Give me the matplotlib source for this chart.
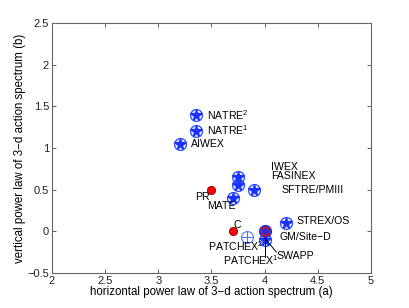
import matplotlib
matplotlib.use("Agg")
import matplotlib.pyplot as plt

plt.rcParams['font.family'] = ['Liberation Sans', 'DejaVu Sans']
plt.rcParams['mathtext.fontset'] = 'custom'
plt.rcParams['mathtext.rm'] = 'Liberation Sans'

# star + circle experiments
star_x = [3.35, 3.35, 3.2, 3.75, 3.75, 3.9, 3.7, 4.2, 4.0]
star_y = [1.4, 1.2, 1.05, 0.65, 0.55, 0.5, 0.4, 0.1, -0.1]
# red dot experiments
red_x = [3.5, 3.7]
red_y = [0.5, 0.0]
# GM/Site-D
gm_x, gm_y = 4.0, 0.0
# PATCHEX^2 (open circle with cross)
p2_x, p2_y = 3.83, -0.07

labels = ["NATRE$\\mathregular{^2}$", "NATRE$\\mathregular{^1}$", "AIWEX", "IWEX", "FASINEX",
          "SFTRE/PMIII", "PR", "MATE", "STREX/OS", "C", "GM/Site\u2212D",
          "PATCHEX$\\mathregular{^2}$", "PATCHEX$\\mathregular{^1}$", "SWAPP"]
lab_x = [3.46, 3.46, 3.31, 4.06, 4.06, 4.16, 3.35, 3.46, 4.30, 3.71, 4.14, 3.47, 3.61, 4.11]
lab_y = [1.40, 1.21, 1.05, 0.77, 0.66, 0.50, 0.41, 0.30, 0.12, 0.07, -0.07, -0.18, -0.35, -0.30]

fig = plt.figure(figsize=(4.09, 3.08), dpi=100)
ax = fig.add_axes([0.127, 0.114, 0.780, 0.811])

ax.plot(star_x, star_y, 'o', ms=8.5, mfc='none', mec='#3355ff', mew=1.0, ls='none')
ax.plot(star_x, star_y, '*', ms=8.5, color='#1a33ff', ls='none')

ax.plot(red_x, red_y, 'o', ms=6, color='red', mec='#660000', mew=0.5, ls='none')

ax.plot(gm_x, gm_y, 'o', ms=8.5, color='#2233dd', ls='none')
ax.plot(gm_x, gm_y, 'o', ms=6, mfc='none', mec='red', mew=1.0, ls='none')

ax.plot(p2_x, p2_y, 'o', ms=8.5, mfc='none', mec='#5577ff', mew=0.8, ls='none')
ax.plot(p2_x, p2_y, '+', ms=8.5, color='#5577ff', mew=0.8, ls='none')

# leader lines
ax.plot([4.0, 4.0], [-0.1, -0.31], color='k', lw=0.7)
ax.plot([4.0, 4.11], [-0.08, -0.25], color='k', lw=0.7)

for t, x, y in zip(labels, lab_x, lab_y):
    ax.text(x, y, t, fontsize=7.6, va='center', ha='left')

ax.set_xlim(2, 5)
ax.set_ylim(-0.5, 2.5)
ax.set_xticks([2, 2.5, 3, 3.5, 4, 4.5, 5])
ax.set_xticklabels(['2', '2.5', '3', '3.5', '4', '4.5', '5'])
ax.set_yticks([-0.5, 0, 0.5, 1, 1.5, 2, 2.5])
ax.set_yticklabels(['\u22120.5', '0', '0.5', '1', '1.5', '2', '2.5'])
ax.tick_params(direction='in', top=True, right=True, labelsize=8, length=3, width=0.6,
               colors='#444444', labelcolor='#222222', pad=2)
for s in ax.spines.values():
    s.set_color('#666666')
    s.set_linewidth(0.8)

ax.set_xlabel("horizontal power law of 3\u2212d action spectrum (a)", fontsize=8.3, labelpad=0)
ax.set_ylabel("vertical power law of 3\u2212d action spectrum (b)", fontsize=8.3)
ax.yaxis.set_label_coords(-0.082, 0.5)

fig.savefig("out.png", dpi=100)
